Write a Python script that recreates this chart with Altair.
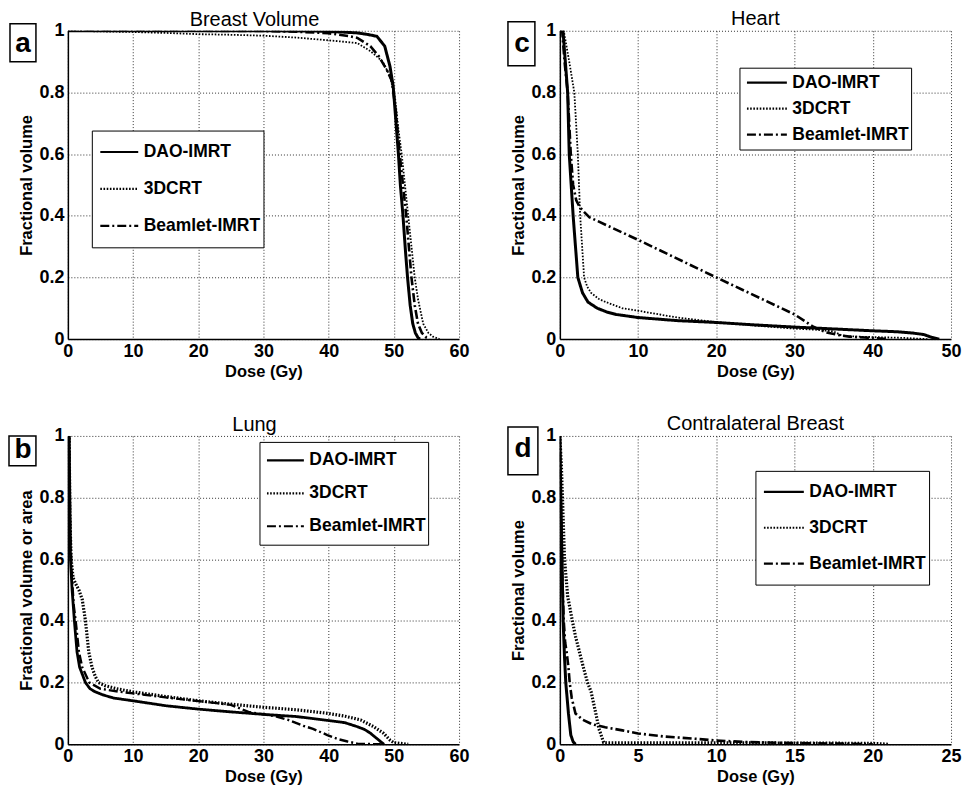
import altair as alt
import pandas as pd

FONT = "Liberation Sans"
SERIES = ["DAO-IMRT", "3DCRT", "Beamlet-IMRT"]

# ---------- Panel a: Breast Volume ----------
a_dao_dose = [0, 10, 20, 30, 38, 42, 44.4, 46, 47.4, 48.6, 49.4, 49.9, 50.3, 50.7, 51.0, 51.4, 51.8, 52.1, 52.5, 52.9, 53.3, 53.7, 54.0]
a_dao_vol = [1, 1, 1, 1, 0.999, 0.996, 0.993, 0.988, 0.982, 0.95, 0.885, 0.82, 0.71, 0.6, 0.5, 0.4, 0.28, 0.2, 0.11, 0.05, 0.02, 0.005, 0]
a_3d_dose = [0, 5, 10, 15, 20, 25, 30, 35, 40, 42, 44.4, 46.4, 48.3, 49.4, 50.2, 50.7, 51.2, 51.7, 52.2, 52.7, 53.2, 53.7, 54.5, 55.3, 56, 57]
a_3d_vol = [1, 0.998, 0.996, 0.993, 0.989, 0.987, 0.984, 0.978, 0.969, 0.965, 0.96, 0.934, 0.9, 0.853, 0.78, 0.68, 0.6, 0.5, 0.4, 0.3, 0.2, 0.13, 0.05, 0.02, 0.008, 0]
a_bl_dose = [0, 10, 20, 30, 35, 40, 43, 44.4, 46.4, 47.7, 48.9, 49.7, 50.3, 50.9, 51.4, 51.9, 52.3, 52.7, 53.2, 53.7, 54.3, 55, 55.5]
a_bl_vol = [1, 1, 1, 0.999, 0.997, 0.992, 0.983, 0.977, 0.95, 0.917, 0.874, 0.837, 0.74, 0.6, 0.5, 0.4, 0.3, 0.2, 0.11, 0.05, 0.02, 0.005, 0]

# ---------- Panel c: Heart ----------
c_dao_dose = [0, 0.4, 0.7, 1.0, 1.2, 1.45, 1.7, 2.0, 2.3, 2.9, 3.6, 4.8, 6, 7.2, 10, 15, 20, 25, 30, 35, 40, 43, 45, 46.5, 47.5, 48.5]
c_dao_vol = [1, 1, 0.9, 0.8, 0.6, 0.5, 0.4, 0.3, 0.2, 0.15, 0.12, 0.1, 0.088, 0.08, 0.07, 0.06, 0.054, 0.046, 0.039, 0.033, 0.027, 0.024, 0.02, 0.015, 0.006, 0]
c_3d_dose = [0, 0.5, 1.2, 1.85, 2.3, 2.6, 2.85, 3.1, 3.5, 4.0, 5.0, 5.9, 8, 10, 15, 20, 25, 30, 33, 35, 36, 38, 41, 44, 47]
c_3d_vol = [1, 1, 0.9, 0.8, 0.6, 0.4, 0.3, 0.2, 0.17, 0.15, 0.13, 0.12, 0.1, 0.092, 0.07, 0.055, 0.044, 0.034, 0.03, 0.025, 0.012, 0.008, 0.006, 0.004, 0]
c_bl_dose = [0, 0.3, 0.6, 1.0, 1.4, 1.7, 2.1, 2.5, 3.0, 3.8, 10, 20, 30, 32.4, 34, 35.9, 37, 39, 41, 42]
c_bl_vol = [1, 1, 0.9, 0.8, 0.6, 0.5, 0.45, 0.43, 0.415, 0.395, 0.322, 0.2, 0.08, 0.04, 0.022, 0.012, 0.008, 0.005, 0.002, 0]

# ---------- Panel b: Lung ----------
b_dao_dose = [0, 0.2, 0.3, 0.4, 0.65, 1.0, 1.4, 1.8, 2.7, 3.4, 4.2, 5.4, 7, 10, 15, 20, 25, 30, 35, 40, 42.5, 44.4, 45.5, 46.4, 47.2, 48, 48.5]
b_dao_vol = [1, 1, 0.8, 0.6, 0.5, 0.4, 0.3, 0.25, 0.2, 0.18, 0.17, 0.16, 0.15, 0.141, 0.125, 0.114, 0.105, 0.097, 0.09, 0.077, 0.07, 0.057, 0.048, 0.036, 0.022, 0.008, 0]
b_3d_dose = [0, 0.2, 0.3, 0.5, 0.8, 1.2, 1.7, 2.2, 2.7, 3.2, 3.7, 4.2, 4.7, 5.7, 7.5, 10, 15, 20, 25, 30, 35, 40, 42.5, 44.9, 46.9, 48.4, 49.4, 50.0, 50.5, 52.2]
b_3d_vol = [1, 1, 0.75, 0.6, 0.54, 0.52, 0.5, 0.47, 0.4, 0.3, 0.25, 0.22, 0.2, 0.19, 0.18, 0.17, 0.155, 0.141, 0.13, 0.12, 0.112, 0.1, 0.091, 0.079, 0.057, 0.036, 0.014, 0.005, 0.004, 0]
b_bl_dose = [0, 0.2, 0.35, 0.6, 0.9, 1.2, 1.7, 2.2, 3.3, 5, 8, 10, 15, 20, 25, 27.7, 30, 32, 33.8, 36.1, 37.6, 39.8, 41.4, 42.9, 44.4, 46, 48]
b_bl_vol = [1, 1, 0.7, 0.55, 0.45, 0.4, 0.3, 0.25, 0.2, 0.18, 0.17, 0.165, 0.152, 0.14, 0.128, 0.105, 0.097, 0.09, 0.079, 0.06, 0.05, 0.03, 0.017, 0.009, 0.002, 0.001, 0]

# ---------- Panel d: Contralateral Breast ----------
d_dao_dose = [0, 0.1, 0.21, 0.3, 0.38, 0.55, 0.7, 0.85, 1.0]
d_dao_vol = [1, 0.7, 0.4, 0.28, 0.2, 0.1, 0.03, 0.008, 0]
d_3d_dose = [0, 0.1, 0.2, 0.3, 0.5, 0.8, 1.0, 1.25, 1.5, 1.77, 2.0, 2.3, 2.5, 2.8, 3.0, 5, 10, 15, 20, 21]
d_3d_vol = [1, 0.9, 0.75, 0.6, 0.48, 0.4, 0.35, 0.3, 0.25, 0.2, 0.17, 0.1, 0.05, 0.006, 0.005, 0.005, 0.005, 0.004, 0.003, 0]
d_bl_dose = [0, 0.05, 0.15, 0.25, 0.34, 0.43, 0.55, 0.63, 0.76, 1.0, 1.44, 2.07, 2.9, 4.0, 5.0, 6.7, 8.6, 10, 12, 15, 18, 20]
d_bl_vol = [1, 0.8, 0.55, 0.4, 0.33, 0.3, 0.25, 0.2, 0.15, 0.1, 0.08, 0.065, 0.055, 0.045, 0.035, 0.025, 0.018, 0.012, 0.007, 0.004, 0.002, 0]

PLOT_W = 392
PLOT_H = 309


def make_df(dao, d3, bl):
    rows = []
    for name, (dose, vol) in zip(SERIES, [dao, d3, bl]):
        for i, (x, y) in enumerate(zip(dose, vol)):
            rows.append({"series": name, "dose": x, "vol": y, "i": i})
    return pd.DataFrame(rows)


def panel(df, title, xmax, xstep, ytitle, letter, box, lpos, leg, widths, title_dx):
    x_enc = alt.X("dose:Q",
                  scale=alt.Scale(domain=[0, xmax], nice=False, zero=True),
                  axis=alt.Axis(values=list(range(0, xmax + 1, xstep)), title="Dose (Gy)",
                                labelFlush=False, labelOverlap=False, labelPadding=3, titlePadding=3))
    y_enc = alt.Y("vol:Q",
                  scale=alt.Scale(domain=[0, 1], nice=False),
                  axis=alt.Axis(values=[0, 0.2, 0.4, 0.6, 0.8, 1], format=".1~f", title=ytitle,
                                labelFlush=False, labelOverlap=False))
    dash_enc = alt.StrokeDash(
        "series:N",
        scale=alt.Scale(domain=SERIES, range=[[1, 0], [1.6, 1.6], [9, 3, 2, 3]]),
        legend=alt.Legend(orient="none", legendX=leg["x"], legendY=leg["y"],
                          title=None, symbolType="stroke",
                          symbolSize=leg["len"] ** 2, symbolStrokeWidth=2.2,
                          symbolStrokeColor="black",
                          labelFont=FONT, labelFontSize=17.5, labelFontWeight="bold",
                          labelColor="black", fillColor="white",
                          strokeColor="black", padding=leg["pad"],
                          clipHeight=leg["row"], rowPadding=0,
                          labelOffset=4, symbolOffset=4))
    layers = []
    for name, w in zip(SERIES, widths):
        layers.append(
            alt.Chart(df).transform_filter(alt.datum.series == name)
            .mark_line(color="black", clip=True, strokeCap="butt", strokeWidth=w)
            .encode(x=x_enc, y=y_enc, strokeDash=dash_enc, order=alt.Order("i:Q"))
        )
    lab_df = pd.DataFrame({"t": [letter]})
    rect = alt.Chart(lab_df).mark_rect(fill="white", stroke="black", strokeWidth=1.5).encode(
        x=alt.value(box[0]), x2=alt.value(box[1]), y=alt.value(box[2]), y2=alt.value(box[3]))
    txt = alt.Chart(lab_df).mark_text(font=FONT, fontSize=28, fontWeight="bold", align="center",
                                      baseline="middle", color="black").encode(
        x=alt.value(lpos[0]), y=alt.value(lpos[1]), text="t:N")
    return alt.layer(*layers, rect, txt).properties(
        width=PLOT_W, height=PLOT_H, title=alt.Title(title, dx=title_dx, dy=11, frame="group"))


pa = panel(make_df((a_dao_dose, a_dao_vol), (a_3d_dose, a_3d_vol), (a_bl_dose, a_bl_vol)),
           "Breast Volume", 60, 10, "Fractional volume", "a",
           (-58, -32, -7, 31), (-45, 13),
           {"x": 24, "y": 100, "len": 38, "pad": 3, "row": 37}, [3, 1.8, 2.6], -9)
pc = panel(make_df((c_dao_dose, c_dao_vol), (c_3d_dose, c_3d_vol), (c_bl_dose, c_bl_vol)),
           "Heart", 50, 10, "Fractional volume", "c",
           (-52, -25, -9, 35), (-38, 13),
           {"x": 180, "y": 37, "len": 40, "pad": 2, "row": 26}, [3, 1.8, 2.6], 0)
pb = panel(make_df((b_dao_dose, b_dao_vol), (b_3d_dose, b_3d_vol), (b_bl_dose, b_bl_vol)),
           "Lung", 60, 10, "Fractional volume or area", "b",
           (-59, -32, 0, 30), (-45, 14),
           {"x": 192, "y": 6, "len": 37, "pad": 2, "row": 33}, [2.8, 3.2, 2.4], -9)
pd_ = panel(make_df((d_dao_dose, d_dao_vol), (d_3d_dose, d_3d_vol), (d_bl_dose, d_bl_vol)),
            "Contralateral Breast", 25, 5, "Fractional volume", "d",
            (-52, -22, -9, 39), (-37, 13),
            {"x": 196, "y": 35, "len": 40, "pad": 3, "row": 36}, [3, 3.2, 2.6], 0)

chart = alt.ConcatChart(
    concat=[pa, pc, pb, pd_], columns=2,
    spacing={"row": 97, "column": 101}, bounds="flush",
).resolve_scale(
    x="independent", y="independent", strokeDash="independent"
).resolve_legend(strokeDash="independent").properties(
    padding={"left": 0, "top": 0, "right": 0, "bottom": 0}
).configure_axis(
    labelFont=FONT, labelFontSize=18, labelFontWeight="bold", labelColor="black",
    titleFont=FONT, titleFontSize=16.5, titleFontWeight="bold", titleColor="black",
    domainColor="black", domainWidth=1.5, gridColor="#333", gridDash=[1, 2], gridWidth=1,
    ticks=False, labelPadding=4, titlePadding=4,
).configure_title(
    font=FONT, fontSize=20, fontWeight="normal", color="black", offset=3, anchor="middle"
).configure_view(strokeWidth=0)

chart.save("out.html", embed_options={"renderer": "svg", "actions": False})
